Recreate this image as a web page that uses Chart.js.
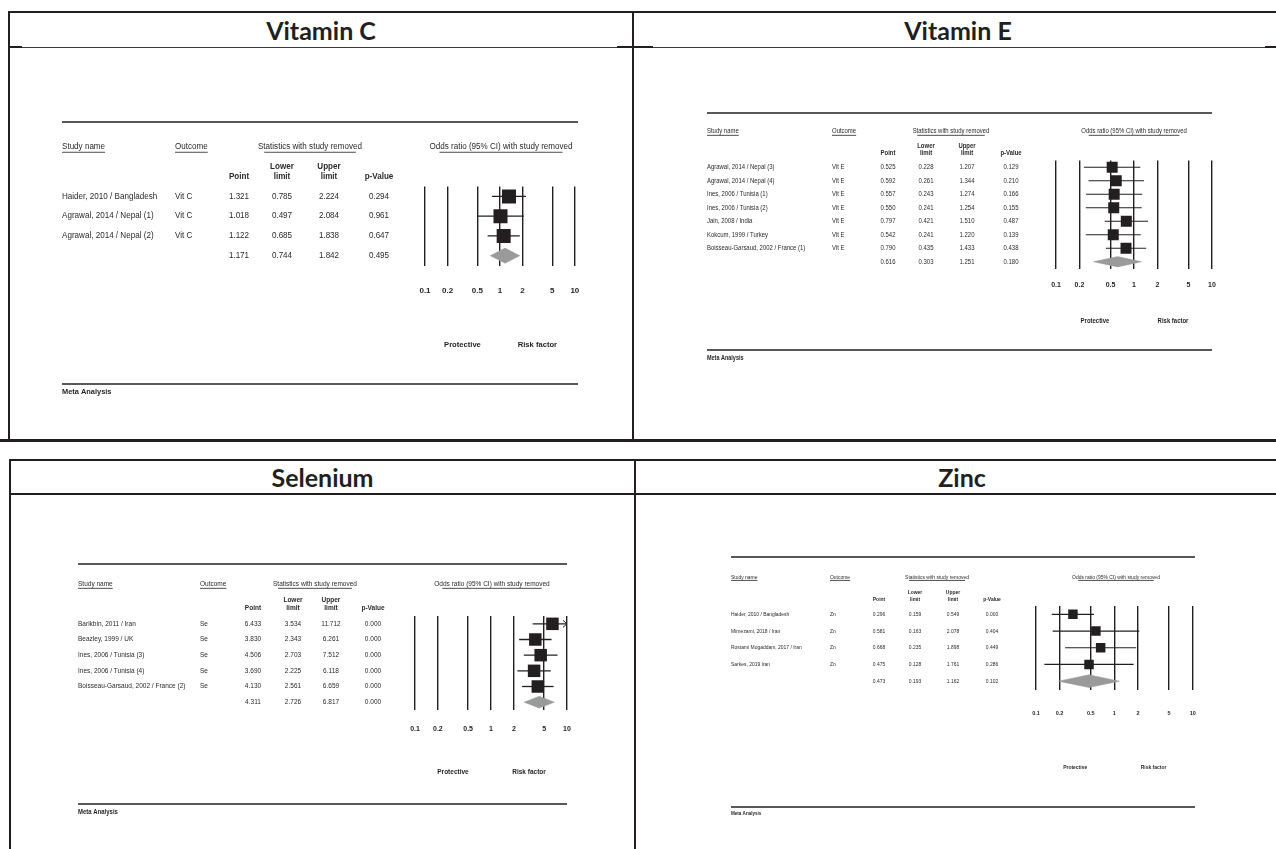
<!DOCTYPE html>
<html>
<head>
<meta charset="utf-8">
<title>Odds ratios with study removed</title>
<script src="https://cdn.jsdelivr.net/npm/chart.js@4.4.1/dist/chart.umd.min.js"></script>
<style>
  html, body { margin: 0; padding: 0; background: #fff; }
  #page { position: relative; width: 1276px; height: 849px; overflow: hidden; }
  .rule { position: absolute; background: #231f20; }
  .rule.thin { background: #3a3a3a; }
  .title {
    position: absolute; display: flex; align-items: center; justify-content: center;
    font-family: Lato, "Open Sans", sans-serif; font-weight: 700; font-size: 25px; color: #231f20;
  }
  canvas { position: absolute; }
</style>
</head>
<body>
<div id="page">
  <!-- frame: top row -->
  <div class="rule" style="left:8px;top:11px;width:1268px;height:2px"></div>
  <div class="rule" style="left:8px;top:11px;width:2px;height:430px"></div>
  <div class="rule" style="left:632px;top:11px;width:2px;height:430px"></div>
  <div class="rule thin" style="left:8px;top:47px;width:1268px;height:1px"></div>
  <div class="rule" style="left:8px;top:46px;width:14px;height:2px"></div>
  <div class="rule" style="left:617px;top:46px;width:36px;height:2px"></div>
  <div class="rule" style="left:1265px;top:46px;width:11px;height:2px"></div>
  <!-- frame: bottom row -->
  <div class="rule" style="left:0;top:439px;width:1276px;height:3px"></div>
  <div class="rule" style="left:9px;top:459px;width:1267px;height:2px"></div>
  <div class="rule" style="left:9px;top:459px;width:2px;height:390px"></div>
  <div class="rule" style="left:634px;top:459px;width:2px;height:390px"></div>
  <div class="rule" style="left:9px;top:493px;width:1267px;height:2px"></div>

  <div class="title" style="left:10px;top:13px;width:622px;height:34px">Vitamin C</div>
  <div class="title" style="left:634px;top:13px;width:648px;height:34px">Vitamin E</div>
  <div class="title" style="left:11px;top:461px;width:623px;height:32px">Selenium</div>
  <div class="title" style="left:636px;top:461px;width:652px;height:32px">Zinc</div>

  <canvas id="vitc"></canvas>
  <canvas id="vite"></canvas>
  <canvas id="se"></canvas>
  <canvas id="zn"></canvas>
</div>

<script>
// ── Data ─────────────────────────────────────────────────────────────────────

const OR_TICKS = [0.1, 0.2, 0.5, 1, 2, 5, 10];
const OR_TICK_LABELS = ['0.1', '0.2', '0.5', '1', '2', '5', '10'];

const VITC_STUDIES = ['Haider, 2010 / Bangladesh', 'Agrawal, 2014 / Nepal (1)', 'Agrawal, 2014 / Nepal (2)'];
const VITC_OUTCOME = ['Vit C', 'Vit C', 'Vit C'];
const VITC_POINT = [1.321, 1.018, 1.122];
const VITC_LOWER = [0.785, 0.497, 0.685];
const VITC_UPPER = [2.224, 2.084, 1.838];
const VITC_P = [0.294, 0.961, 0.647];
const VITC_POOLED = [1.171, 0.744, 1.842, 0.495]; // point, lower, upper, p

const VITE_STUDIES = ['Agrawal, 2014 / Nepal (3)', 'Agrawal, 2014 / Nepal (4)', 'Ines, 2006 / Tunisia (1)',
  'Ines, 2006 / Tunisia (2)', 'Jain, 2008 / India', 'Kokcum, 1999 / Turkey', 'Boisseau-Garsaud, 2002 / France (1)'];
const VITE_OUTCOME = ['Vit E', 'Vit E', 'Vit E', 'Vit E', 'Vit E', 'Vit E', 'Vit E'];
const VITE_POINT = [0.525, 0.592, 0.557, 0.550, 0.797, 0.542, 0.790];
const VITE_LOWER = [0.228, 0.261, 0.243, 0.241, 0.421, 0.241, 0.435];
const VITE_UPPER = [1.207, 1.344, 1.274, 1.254, 1.510, 1.220, 1.433];
const VITE_P = [0.129, 0.210, 0.166, 0.155, 0.487, 0.139, 0.438];
const VITE_POOLED = [0.616, 0.303, 1.251, 0.180];

const SE_STUDIES = ['Barikbin, 2011 / Iran', 'Beazley, 1999 / UK', 'Ines, 2006 / Tunisia (3)',
  'Ines, 2006 / Tunisia (4)', 'Boisseau-Garsaud, 2002 / France (2)'];
const SE_OUTCOME = ['Se', 'Se', 'Se', 'Se', 'Se'];
const SE_POINT = [6.433, 3.830, 4.506, 3.690, 4.130];
const SE_LOWER = [3.534, 2.343, 2.703, 2.225, 2.561];
const SE_UPPER = [11.712, 6.261, 7.512, 6.118, 6.659];
const SE_P = [0.000, 0.000, 0.000, 0.000, 0.000];
const SE_POOLED = [4.311, 2.726, 6.817, 0.000];

const ZN_STUDIES = ['Haider, 2010 / Bangladesh', 'Mirnezami, 2018 / Iran', 'Rostami Mogaddam, 2017 / Iran', 'Sarkes, 2019 Iran'];
const ZN_OUTCOME = ['Zn', 'Zn', 'Zn', 'Zn'];
const ZN_POINT = [0.296, 0.581, 0.668, 0.475];
const ZN_LOWER = [0.159, 0.163, 0.235, 0.128];
const ZN_UPPER = [0.549, 2.078, 1.898, 1.761];
const ZN_P = [0.000, 0.404, 0.449, 0.286];
const ZN_POOLED = [0.473, 0.193, 1.162, 0.102];

// ── Styling ──────────────────────────────────────────────────────────────────

const INK = '#231f20';
const TEXT_INK = '#2a2a2a';
const DIAMOND_GREY = '#9a9a9a';
const DIAMOND_HALF = 0.38;   // half height of the pooled diamond, in rows
const TEXT_FONT = '"Liberation Sans", Arial, sans-serif';

// page-pixel layout of each forest plot block
const PANELS = [
  {
    canvas: 'vitc', studies: VITC_STUDIES, outcome: VITC_OUTCOME, point: VITC_POINT, lower: VITC_LOWER,
    upper: VITC_UPPER, p: VITC_P, pooled: VITC_POOLED,
    box: { left: 50, top: 110, right: 600, bottom: 405 },
    plot: { left: 425, right: 578, top: 186.5, bottom: 265.5 },
    table: { left: 62, right: 578, top: 122, bottom: 384, head: 147, sub1: 167, sub2: 177, tick: 291, side: 345, meta: 392 },
    cols: { study: 62, outcome: 175, point: 239, lower: 282, upper: 329, p: 379, stats: 310, odds: 501 },
    font: 8.5, squeeze: 0.95, tickFont: 8, boxSize: 14, lineW: 1.4,
  },
  {
    canvas: 'vite', studies: VITE_STUDIES, outcome: VITE_OUTCOME, point: VITE_POINT, lower: VITE_LOWER,
    upper: VITE_UPPER, p: VITE_P, pooled: VITE_POOLED,
    box: { left: 695, top: 100, right: 1234, bottom: 372 },
    plot: { left: 1056, right: 1212, top: 160.5, bottom: 268.5 },
    table: { left: 707, right: 1212, top: 113, bottom: 350, head: 131, sub1: 146, sub2: 153, tick: 285, side: 321, meta: 358 },
    cols: { study: 707, outcome: 832, point: 888, lower: 926, upper: 967, p: 1011, stats: 951, odds: 1134 },
    font: 7, squeeze: 0.85, tickFont: 7, boxSize: 11, lineW: 1.2,
  },
  {
    canvas: 'se', studies: SE_STUDIES, outcome: SE_OUTCOME, point: SE_POINT, lower: SE_LOWER,
    upper: SE_UPPER, p: SE_P, pooled: SE_POOLED,
    box: { left: 66, top: 552, right: 590, bottom: 826 },
    plot: { left: 415, right: 567, top: 616, bottom: 710 },
    table: { left: 78, right: 567, top: 564, bottom: 804, head: 584, sub1: 600, sub2: 608, tick: 729, side: 772, meta: 812 },
    cols: { study: 78, outcome: 200, point: 253, lower: 293, upper: 331, p: 373, stats: 315, odds: 492 },
    font: 7, squeeze: 0.93, tickFont: 7, boxSize: 12.5, lineW: 1.3,
  },
  {
    canvas: 'zn', studies: ZN_STUDIES, outcome: ZN_OUTCOME, point: ZN_POINT, lower: ZN_LOWER,
    upper: ZN_UPPER, p: ZN_P, pooled: ZN_POOLED,
    box: { left: 720, top: 545, right: 1216, bottom: 828 },
    plot: { left: 1036, right: 1195, top: 606, bottom: 689.5 },
    table: { left: 731, right: 1195, top: 557, bottom: 807, head: 577, sub1: 592, sub2: 599, tick: 713, side: 767, meta: 814 },
    cols: { study: 731, outcome: 830, point: 879, lower: 915, upper: 953, p: 992, stats: 937, odds: 1116 },
    font: 5.5, squeeze: 0.9, tickFont: 5.5, boxSize: 9.5, lineW: 1.2,
  },
];

// ── Text helpers ─────────────────────────────────────────────────────────────

function drawText(ctx, str, x, y, align, size, squeeze, bold) {
  ctx.save();
  ctx.font = `${bold ? 'bold ' : ''}${size}px ${TEXT_FONT}`;
  ctx.textAlign = align;
  ctx.textBaseline = 'middle';
  ctx.translate(x, y);
  ctx.scale(squeeze, 1);
  ctx.fillText(str, 0, 0);
  const w = ctx.measureText(str).width * squeeze;
  ctx.restore();
  return w;
}

function hline(ctx, x0, x1, y, w) {
  ctx.beginPath();
  ctx.lineWidth = w;
  ctx.moveTo(x0, y);
  ctx.lineTo(x1, y);
  ctx.stroke();
}

// underline under a text drawn at x with given alignment; inset trims both ends
function underline(ctx, x, y, w, align, inset) {
  const x0 = align === 'center' ? x - w / 2 : x;
  hline(ctx, x0 + w * inset, x0 + w * (1 - inset), y, 0.8);
}

// ── Table + annotations plugin ───────────────────────────────────────────────

const forestTable = {
  id: 'forestTable',
  afterDatasetsDraw(chart, args, opts) {
    const cfg = opts.panel;
    if (!cfg) return;
    const { ctx } = chart;
    const xs = chart.scales.x;
    const ys = chart.scales.y;
    const X = v => v - cfg.box.left;
    const Y = v => v - cfg.box.top;
    const t = cfg.table, c = cfg.cols, f = cfg.font, sq = cfg.squeeze;
    const ul = f * 0.62;

    ctx.save();
    ctx.fillStyle = TEXT_INK;
    ctx.strokeStyle = INK;

    // top and bottom rules
    hline(ctx, X(t.left), X(t.right), Y(t.top), 1.6);
    hline(ctx, X(t.left), X(t.right), Y(t.bottom), 1.6);

    // column group headers
    let w = drawText(ctx, 'Study name', X(c.study), Y(t.head), 'left', f, sq, false);
    underline(ctx, X(c.study), Y(t.head) + ul, w, 'left', 0);
    w = drawText(ctx, 'Outcome', X(c.outcome), Y(t.head), 'left', f, sq, false);
    underline(ctx, X(c.outcome), Y(t.head) + ul, w, 'left', 0);
    w = drawText(ctx, 'Statistics with study removed', X(c.stats), Y(t.head), 'center', f, sq, false);
    underline(ctx, X(c.stats), Y(t.head) + ul, w, 'center', 0.06);
    w = drawText(ctx, 'Odds ratio (95% CI) with study removed', X(c.odds), Y(t.head), 'center', f, sq, false);
    underline(ctx, X(c.odds), Y(t.head) + ul, w, 'center', 0.07);

    // statistic column headers
    drawText(ctx, 'Point', X(c.point), Y(t.sub2), 'center', f, sq, true);
    drawText(ctx, 'Lower', X(c.lower), Y(t.sub1), 'center', f, sq, true);
    drawText(ctx, 'limit', X(c.lower), Y(t.sub2), 'center', f, sq, true);
    drawText(ctx, 'Upper', X(c.upper), Y(t.sub1), 'center', f, sq, true);
    drawText(ctx, 'limit', X(c.upper), Y(t.sub2), 'center', f, sq, true);
    drawText(ctx, 'p-Value', X(c.p), Y(t.sub2), 'center', f, sq, true);

    // study rows
    cfg.studies.forEach((name, i) => {
      const py = ys.getPixelForValue(i);
      drawText(ctx, name, X(c.study), py, 'left', f, sq, false);
      drawText(ctx, cfg.outcome[i], X(c.outcome), py, 'left', f, sq, false);
      drawText(ctx, cfg.point[i].toFixed(3), X(c.point), py, 'center', f, sq, false);
      drawText(ctx, cfg.lower[i].toFixed(3), X(c.lower), py, 'center', f, sq, false);
      drawText(ctx, cfg.upper[i].toFixed(3), X(c.upper), py, 'center', f, sq, false);
      drawText(ctx, cfg.p[i].toFixed(3), X(c.p), py, 'center', f, sq, false);

      // arrow where the interval runs past the axis
      if (cfg.upper[i] > xs.max) {
        const ax = xs.getPixelForValue(xs.max);
        ctx.beginPath();
        ctx.lineWidth = 1;
        ctx.moveTo(ax - 4, py - 3.5);
        ctx.lineTo(ax, py);
        ctx.lineTo(ax - 4, py + 3.5);
        ctx.stroke();
      }
    });

    // pooled row
    const pr = ys.getPixelForValue(cfg.studies.length);
    const [pp, pl, pu, pv] = cfg.pooled;
    drawText(ctx, pp.toFixed(3), X(c.point), pr, 'center', f, sq, false);
    drawText(ctx, pl.toFixed(3), X(c.lower), pr, 'center', f, sq, false);
    drawText(ctx, pu.toFixed(3), X(c.upper), pr, 'center', f, sq, false);
    drawText(ctx, pv.toFixed(3), X(c.p), pr, 'center', f, sq, false);

    // direction labels, centred on each half of the axis
    ctx.fillStyle = INK;
    drawText(ctx, 'Protective', xs.getPixelForValue(Math.sqrt(xs.min)), Y(t.side), 'center', cfg.tickFont, sq, true);
    drawText(ctx, 'Risk factor', xs.getPixelForValue(Math.sqrt(xs.max)), Y(t.side), 'center', cfg.tickFont, sq, true);
    drawText(ctx, 'Meta Analysis', X(t.left), Y(t.meta), 'left', f * 0.92, sq, true);

    ctx.restore();
  },
};

Chart.register(forestTable);

// ── Charts ───────────────────────────────────────────────────────────────────

function renderForest(cfg) {
  const el = document.getElementById(cfg.canvas);
  const width = cfg.box.right - cfg.box.left;
  const height = cfg.box.bottom - cfg.box.top;
  el.width = width;
  el.height = height;
  el.style.left = cfg.box.left + 'px';
  el.style.top = cfg.box.top + 'px';
  el.style.width = width + 'px';
  el.style.height = height + 'px';

  const rows = cfg.point.length;
  const tickPad = cfg.table.tick - cfg.plot.bottom - cfg.tickFont * 0.6;
  const axisH = tickPad + cfg.tickFont * 1.6;

  const ciSets = cfg.point.map((_, i) => ({
    type: 'line',
    data: [{ x: cfg.lower[i], y: i }, { x: cfg.upper[i], y: i }],
    borderColor: INK,
    borderWidth: cfg.lineW,
    pointRadius: 0,
    fill: false,
    order: 2,
  }));

  const squares = {
    type: 'scatter',
    data: cfg.point.map((v, i) => ({ x: v, y: i })),
    pointStyle: 'rect',
    pointRadius: cfg.boxSize / Math.SQRT2,
    backgroundColor: INK,
    borderColor: INK,
    borderWidth: 0,
    order: 0,
  };

  const [pp, pl, pu] = cfg.pooled;
  const diamond = {
    type: 'line',
    data: [
      { x: pl, y: rows }, { x: pp, y: rows - DIAMOND_HALF },
      { x: pu, y: rows }, { x: pp, y: rows + DIAMOND_HALF }, { x: pl, y: rows },
    ],
    fill: 'shape',
    backgroundColor: DIAMOND_GREY,
    borderColor: DIAMOND_GREY,
    borderWidth: 0.5,
    pointRadius: 0,
    tension: 0,
    order: 1,
  };

  return new Chart(el, {
    type: 'scatter',
    data: { datasets: [squares, diamond, ...ciSets] },
    options: {
      responsive: false,
      animation: false,
      events: [],
      layout: {
        padding: {
          left: cfg.plot.left - cfg.box.left,
          right: cfg.box.right - cfg.plot.right,
          top: cfg.plot.top - cfg.box.top,
          bottom: cfg.box.bottom - cfg.plot.bottom - axisH,
        },
      },
      plugins: {
        legend: { display: false },
        tooltip: { enabled: false },
        forestTable: { panel: cfg },
      },
      scales: {
        x: {
          type: 'logarithmic',
          min: OR_TICKS[0],
          max: OR_TICKS[OR_TICKS.length - 1],
          afterBuildTicks: scale => { scale.ticks = OR_TICKS.map(v => ({ value: v })); },
          afterFit: scale => { scale.height = axisH; },
          border: { display: false },
          grid: { color: INK, lineWidth: 1.4, drawTicks: false },
          ticks: {
            autoSkip: false,
            maxRotation: 0,
            padding: tickPad,
            color: INK,
            font: { family: TEXT_FONT, size: cfg.tickFont, weight: 'bold' },
            callback: value => OR_TICK_LABELS[OR_TICKS.indexOf(value)] ?? '',
          },
        },
        y: {
          type: 'linear',
          min: -0.5,
          max: rows + 0.5,
          reverse: true,
          display: false,
        },
      },
    },
  });
}

PANELS.forEach(renderForest);
</script>
</body>
</html>
